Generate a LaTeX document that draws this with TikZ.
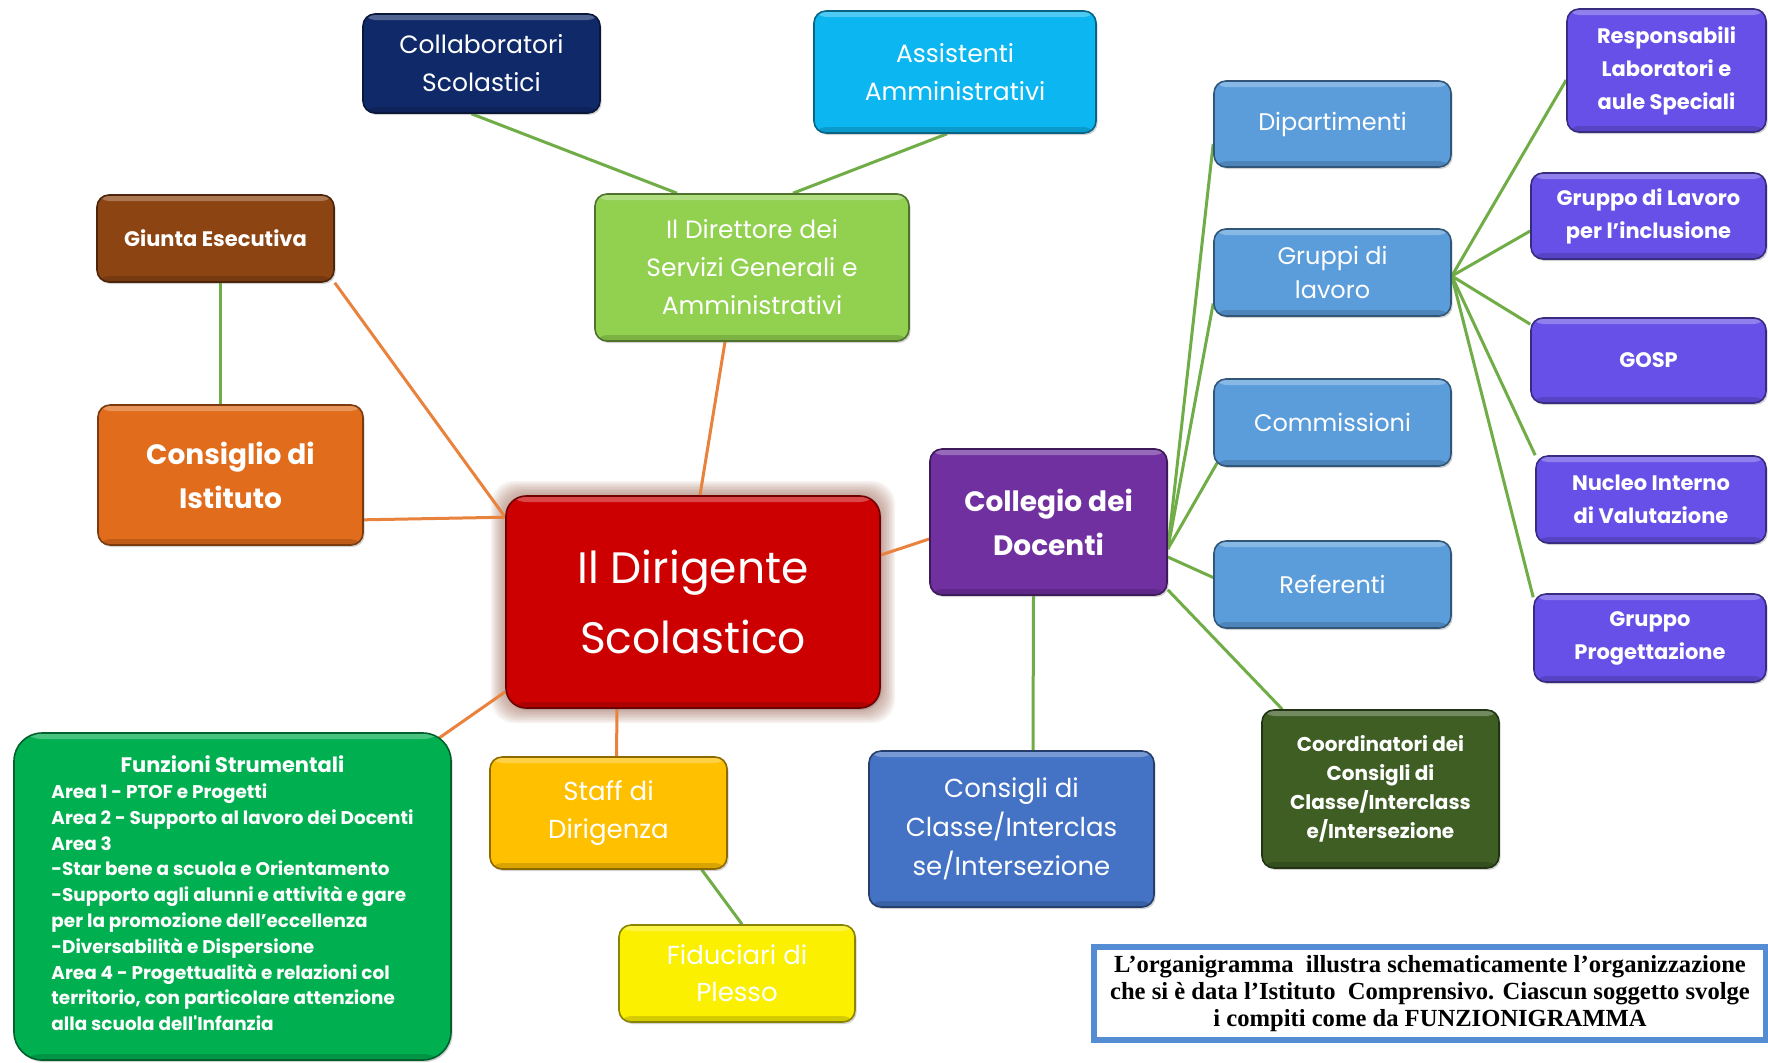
\documentclass[tikz,border=0pt]{standalone}
\usepackage{fontspec}
\newfontfamily\cf{Poppins}
\newfontfamily\capf{Liberation Serif}
\usetikzlibrary{shadows,calc,backgrounds}
\definecolor{cnavy}{RGB}{16,42,105}
\definecolor{ccyan}{RGB}{12,182,240}
\definecolor{cbrown}{RGB}{140,68,18}
\definecolor{clgreen}{RGB}{146,208,80}
\definecolor{corange}{RGB}{224,108,28}
\definecolor{cred}{RGB}{204,0,0}
\definecolor{cpurple}{RGB}{112,48,160}
\definecolor{clblue}{RGB}{91,157,219}
\definecolor{cviolet}{RGB}{102,80,232}
\definecolor{cdgreen}{RGB}{62,94,36}
\definecolor{cblue}{RGB}{68,114,196}
\definecolor{cgold}{RGB}{255,192,0}
\definecolor{cyellow}{RGB}{250,240,0}
\definecolor{cgreen}{RGB}{0,176,80}
\definecolor{capblue}{RGB}{84,141,212}
\definecolor{lgreen}{RGB}{112,173,71}
\definecolor{lorange}{RGB}{232,130,60}
\definecolor{glowc}{RGB}{150,90,70}
\tikzset{
  box/.style={rounded corners=6pt, fill=#1, draw=#1!55!black, line width=0.8pt,
    drop shadow={shadow xshift=0.8pt, shadow yshift=-1pt, opacity=0.35},
    text=white, align=center, inner sep=0pt, font=\cf,
    path picture={
      \fill[white,opacity=0.28] (path picture bounding box.north west) rectangle ([yshift=-3pt]path picture bounding box.north east);
      \fill[black,opacity=0.15] (path picture bounding box.south west) rectangle ([yshift=3pt]path picture bounding box.south east);}},
  gline/.style={draw=lgreen, line width=1.5pt},
  oline/.style={draw=lorange, line width=1.5pt},
  fstd/.style={font=\cf\fontsize{12.5}{19}\selectfont},
  fbig/.style={font=\cf\bfseries\fontsize{14}{22}\selectfont},
  fblue/.style={font=\cf\fontsize{12}{17}\selectfont},
  fviol/.style={font=\cf\bfseries\fontsize{10.5}{16.5}\selectfont},
}
\begin{document}
\begin{tikzpicture}[x=0.5pt,y=-0.5pt]
\useasboundingbox (0,0) rectangle (1768,1062);
% nodes
\node[box=cnavy, fstd, minimum width=118.5pt, minimum height=49.5pt] (collab) at (481.5,63.5) {Collaboratori\\Scolastici};
\node[box=ccyan, fstd, minimum width=141pt, minimum height=61pt] (assist) at (955,72) {Assistenti\\Amministrativi};
\node[box=cbrown, font=\cf\bfseries\fontsize{10.5}{15}\selectfont, minimum width=118.5pt, minimum height=43.5pt] (giunta) at (215.5,238.5) {Giunta Esecutiva};
\node[box=clgreen, fstd, minimum width=157pt, minimum height=73.5pt] (dsga) at (752,267.5) {Il Direttore dei\\Servizi Generali e\\Amministrativi};
\node[box=corange, fbig, minimum width=132.5pt, minimum height=70pt] (consiglio) at (230.5,475) {Consiglio di\\Istituto};
\node[box=cred, font=\cf\fontsize{22}{35}\selectfont, minimum width=187pt, minimum height=106pt, rounded corners=10pt] (dirigente) at (693,602) {Il Dirigente\\Scolastico};
\node[box=cpurple, fbig, minimum width=118.5pt, minimum height=73pt] (collegio) at (1048.5,522) {Collegio dei\\Docenti};
\node[box=clblue, fblue, minimum width=118.5pt, minimum height=43pt] (dip) at (1332.5,124) {Dipartimenti};
\node[box=clblue, fblue, minimum width=118.5pt, minimum height=43.5pt] (gruppi) at (1332.5,272.5) {Gruppi di\\lavoro};
\node[box=clblue, fblue, minimum width=118.5pt, minimum height=43.5pt] (comm) at (1332.5,422.5) {Commissioni};
\node[box=clblue, fblue, minimum width=118.5pt, minimum height=43.5pt] (ref) at (1332.5,584.5) {Referenti};
\node[box=cviolet, fviol, minimum width=99.5pt, minimum height=61.5pt] (resp) at (1666.5,70.5) {Responsabili\\Laboratori e\\aule Speciali};
\node[box=cviolet, fviol, minimum width=117.5pt, minimum height=43pt] (gli) at (1648.5,216) {Gruppo di Lavoro\\per l’inclusione};
\node[box=cviolet, fviol, minimum width=117.5pt, minimum height=42.5pt] (gosp) at (1648.5,360.5) {GOSP};
\node[box=cviolet, fviol, minimum width=115pt, minimum height=43.5pt] (nucleo) at (1651,499.5) {Nucleo Interno\\di Valutazione};
\node[box=cviolet, fviol, minimum width=116pt, minimum height=44pt] (gprog) at (1650,638) {Gruppo\\Progettazione};
\node[box=cdgreen, font=\cf\bfseries\fontsize{10}{14.5}\selectfont, minimum width=118.5pt, minimum height=79pt] (coord) at (1380.5,789) {Coordinatori dei\\Consigli di\\Classe/Interclass\\e/Intersezione};
\node[box=cblue, font=\cf\fontsize{13}{19.5}\selectfont, minimum width=142.5pt, minimum height=78pt] (consigli) at (1011.5,829) {Consigli di\\Classe/Interclas\\se/Intersezione};
\node[box=cgold, font=\cf\fontsize{13}{18.7}\selectfont, minimum width=118.5pt, minimum height=56pt] (staff) at (608.5,813) {Staff di\\Dirigenza};
\node[box=cyellow, font=\cf\fontsize{13}{18.7}\selectfont, minimum width=118pt, minimum height=48.5pt] (fid) at (737,973.5) {Fiduciari di\\Plesso};
\node[box=cgreen, rounded corners=14pt, font=\cf\bfseries\fontsize{9.2}{12.9}\selectfont, minimum width=218.5pt, minimum height=163.5pt] (funz) at (232.5,896.5) {%
\begin{tabular}{@{}l@{}}
\multicolumn{1}{@{}c@{}}{\fontsize{10.5}{12.9}\selectfont Funzioni Strumentali}\\
Area 1 - PTOF e Progetti\\
Area 2 - Supporto al lavoro dei Docenti\\
Area 3\\
-Star bene a scuola e Orientamento\\
-Supporto agli alunni e attività e gare\\
per la promozione dell’eccellenza\\
-Diversabilità e Dispersione\\
Area 4 - Progettualità e relazioni col\\
territorio, con particolare attenzione\\
alla scuola dell'Infanzia
\end{tabular}};
\node[draw=capblue, line width=3pt, fill=white, text=black, align=center, inner sep=0pt,
  font=\capf\bfseries\fontsize{12.3}{13.5}\selectfont,
  drop shadow={shadow xshift=0.5pt, shadow yshift=-1pt, opacity=0.3},
  minimum width=336pt, minimum height=46.5pt] (caption) at (1430,993.5)
  {L’organigramma\ \ illustra schematicamente l’organizzazione\\che si è data l’Istituto\ \ Comprensivo. Ciascun soggetto svolge\\i compiti come da FUNZIONIGRAMMA};
\begin{scope}[on background layer]
\fill[white] (0,0) rectangle (1768,1062);
\foreach \k in {1,...,9}
  \fill[glowc, opacity=0.07, rounded corners=12pt] ($(dirigente.north west)+(-1.6*\k,-1.6*\k)$) rectangle ($(dirigente.south east)+(1.6*\k,1.6*\k)$);
% orange connectors
\draw[oline] (giunta.south east) -- ($(dirigente.north west)+(0,22)$);
\draw[oline] ($(consiglio.south east)+(0,-26)$) -- ($(dirigente.north west)+(0,22)$);
\draw[oline] ($(dsga.south)+(-27,0)$) -- ($(dirigente.north)+(7,0)$);
\draw[oline] ($(dirigente.east)+(0,-47)$) -- ($(collegio.west)+(0,17)$);
\draw[oline] ($(dirigente.south west)+(0,-17)$) -- ($(funz.north east)+(-23,13)$);
\draw[oline] ($(staff.north)+(8,0)$) -- ($(dirigente.south)+(-76,0)$);
% green connectors
\draw[gline] ($(collab.south)+(-10,0)$) -- ($(dsga.north)+(-75,0)$);
\draw[gline] ($(assist.south)+(-8,0)$) -- ($(dsga.north)+(41,0)$);
\draw[gline] ($(giunta.south)+(4.5,0)$) -- ($(consiglio.north)+(-10.5,0)$);
\draw[gline] ($(staff.south east)+(-26,0)$) -- ($(fid.north)+(5,0)$);
\draw[gline] ($(collegio.south)+(-15,0)$) -- ($(consigli.north)+(21.5,0)$);
\draw[gline] ($(collegio.east)+(0,27)$) -- ($(dip.west)+(0,20)$);
\draw[gline] ($(collegio.east)+(0,27)$) -- ($(gruppi.west)+(0,31)$);
\draw[gline] ($(collegio.east)+(0,27)$) -- ($(comm.south west)+(4,-4)$);
\draw[gline] ($(collegio.east)+(0,35)$) -- ($(ref.west)+(0,-7)$);
\draw[gline] ($(collegio.south east)+(0,-6)$) -- ($(coord.north west)+(21,0)$);
\draw[gline] ($(gruppi.east)+(0,3.5)$) -- ($(resp.west)+(0,9.5)$);
\draw[gline] ($(gruppi.east)+(0,3.5)$) -- ($(gli.west)+(0,15)$);
\draw[gline] ($(gruppi.east)+(0,3.5)$) -- ($(gosp.north west)+(0,7)$);
\draw[gline] ($(gruppi.east)+(0,3.5)$) -- (nucleo.north west);
\draw[gline] ($(gruppi.east)+(0,3.5)$) -- ($(gprog.north west)+(0,4)$);
\end{scope}
\end{tikzpicture}
\end{document}
